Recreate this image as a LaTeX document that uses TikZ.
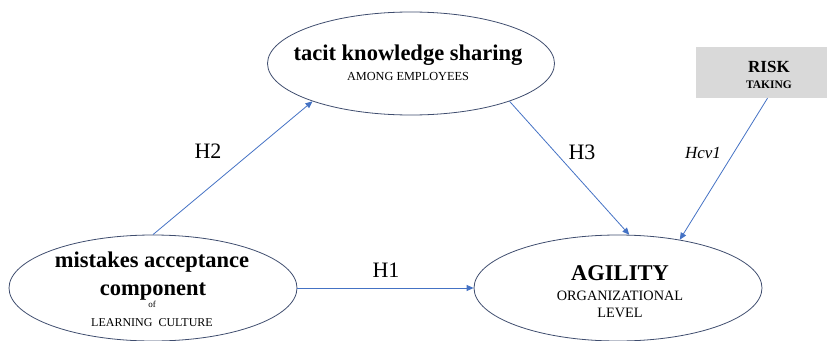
\documentclass[tikz,border=0pt]{standalone}
\usepackage{fontspec}
\setmainfont{Liberation Serif}
\usetikzlibrary{shapes.geometric,arrows.meta}
\definecolor{arrowblue}{HTML}{4472C4}
\definecolor{ellline}{HTML}{3F4D6E}
\definecolor{riskgray}{HTML}{D9D9D9}
\newcommand{\fsz}[2]{\fontsize{#1}{#2}\selectfont}
\tikzset{
  ell/.style={ellipse, draw=ellline, line width=0.8pt, inner sep=0pt, minimum width=288pt},
  conn/.style={draw=arrowblue, line width=0.8pt, -{Triangle[length=7pt,width=6pt]}},
  txt/.style={anchor=base, inner sep=0pt},
  title/.style={txt, font=\fsz{22.5}{26}\bfseries},
  hyp/.style={txt, font=\fsz{22}{24}},
}
\begin{document}
\begin{tikzpicture}[x=1pt,y=-1pt]
\useasboundingbox (0,0) rectangle (832,340);
% shapes
\node[ell, minimum width=287pt, minimum height=103pt] (tk) at (411,63.5) {};
\node[ell, minimum height=106pt] (ml) at (153,288) {};
\node[ell, minimum height=106pt] (ag) at (618,288) {};
\node[fill=riskgray, minimum width=131pt, minimum height=51pt, inner sep=0pt] (rk) at (761.5,72.5) {};
% texts
\node[title] (tk1) at (408,60) {tacit knowledge sharing};
\node[txt, font=\fsz{12.3}{14}] (tk2) at (408,80) {AMONG EMPLOYEES};
\node[title] (ml1) at (152,267) {mistakes acceptance};
\node[title] (ml2) at (153,295) {component};
\node[txt, font=\fsz{9}{10}] (ml3) at (152,307.5) {of};
\node[txt, font=\fsz{12}{14}] (ml4) at (152,326) {LEARNING~~CULTURE};
\node[title] (ag1) at (620,280) {AGILITY};
\node[txt, font=\fsz{14.3}{16}] (ag2) at (620,300) {ORGANIZATIONAL};
\node[txt, font=\fsz{14.3}{16}] (ag3) at (620,317) {LEVEL};
\node[txt, font=\fsz{17}{19}\bfseries] (rk1) at (769,72) {RISK};
\node[txt, font=\fsz{11.5}{13}\bfseries] (rk2) at (769,88) {TAKING};
% connectors
\draw[conn] (ml.90) -- (tk.201);
\draw[conn] (tk.339) -- (ag.78);
\draw[conn] ([xshift=6pt]rk.south) -- (ag.38);
\draw[conn] (ml.east) -- (ag.west);
% labels
\node[hyp] (h2) at (208,158) {H2};
\node[hyp] (h3) at (582,159) {H3};
\node[hyp] (h1) at (386,277) {H1};
\node[txt, font=\fsz{17}{19}\itshape] (hcv) at (703,158) {Hcv1};
\end{tikzpicture}
\end{document}
